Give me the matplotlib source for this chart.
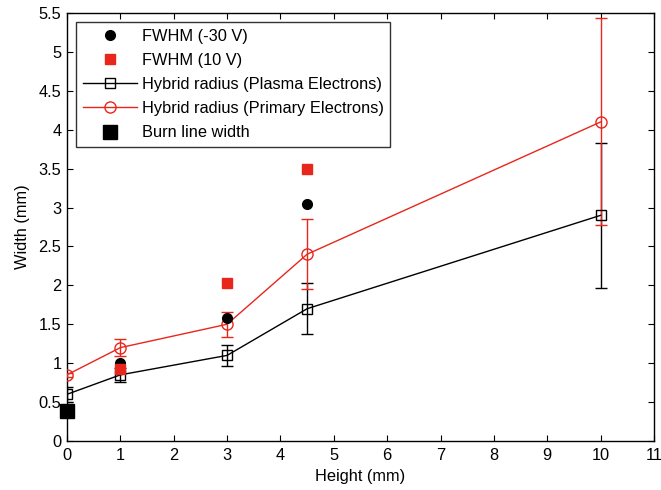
import matplotlib
matplotlib.use("Agg")
import matplotlib.pyplot as plt
from matplotlib.lines import Line2D

plt.rcParams['font.family'] = ['Liberation Sans', 'DejaVu Sans']

# Hybrid radius, plasma electrons
plasma_h = [0, 1, 3, 4.5, 10]
plasma_w = [0.6, 0.85, 1.1, 1.7, 2.9]
plasma_err = [0.1, 0.09, 0.14, 0.33, 0.93]

# Hybrid radius, primary electrons
primary_h = [0, 1, 3, 4.5, 10]
primary_w = [0.85, 1.2, 1.5, 2.4, 4.1]
primary_err = [0.03, 0.11, 0.16, 0.45, 1.33]

# Measured FWHM
fwhm_m30_h = [1, 3, 4.5]
fwhm_m30_w = [1.0, 1.58, 3.05]
fwhm_10_h = [1, 3, 4.5]
fwhm_10_w = [0.93, 2.03, 3.5]

# Burn line width
burn_h = [0]
burn_w = [0.38]

xticks = list(range(0, 12))
yticks = [0, 0.5, 1, 1.5, 2, 2.5, 3, 3.5, 4, 4.5, 5, 5.5]

fs = 11.8
red = '#e8261c'

fig = plt.figure(figsize=(6.61, 4.9), dpi=100)
ax = fig.add_axes([67 / 661, 49 / 490, 587 / 661, 428 / 490])

ax.errorbar(plasma_h, plasma_w, yerr=plasma_err, color='black', lw=1,
            marker='s', mfc='none', mec='black', ms=7.5, mew=1, capsize=4,
            elinewidth=1, zorder=3)
ax.errorbar(primary_h, primary_w, yerr=primary_err, color=red, lw=1,
            marker='o', mfc='none', mec=red, ms=8, mew=1, capsize=4,
            elinewidth=1, zorder=3)
ax.plot(fwhm_m30_h, fwhm_m30_w, 'o', color='black', ms=7, ls='none', zorder=4)
ax.plot(fwhm_10_h, fwhm_10_w, 's', color=red, ms=7.5, ls='none', zorder=4)
ax.plot(burn_h, burn_w, 's', color='black', ms=10, ls='none',
        clip_on=False, zorder=5)

ax.set_xlim(0, 11)
ax.set_ylim(0, 5.5)
ax.set_xticks(xticks)
ax.set_xticklabels([str(t) for t in xticks])
ax.set_yticks(yticks)
ax.set_yticklabels([('%g' % t) for t in yticks])
ax.tick_params(direction='in', top=True, right=True, labelsize=fs,
               length=4.5, width=0.8)
ax.tick_params(axis='x', pad=5)
ax.tick_params(axis='y', pad=4)
for s in ax.spines.values():
    s.set_linewidth(1)
ax.set_xlabel('Height (mm)', fontsize=fs, labelpad=4)
ax.set_ylabel('Width (mm)', fontsize=fs, labelpad=6)

handles = [
    Line2D([], [], ls='none', marker='o', color='black', ms=7),
    Line2D([], [], ls='none', marker='s', color=red, ms=7.5),
    Line2D([], [], color='black', lw=1, marker='s', mfc='none', mec='black', ms=7.5),
    Line2D([], [], color=red, lw=1, marker='o', mfc='none', mec=red, ms=8),
    Line2D([], [], ls='none', marker='s', color='black', ms=10),
]
labels = ['FWHM (-30 V)', 'FWHM (10 V)', 'Hybrid radius (Plasma Electrons)',
          'Hybrid radius (Primary Electrons)', 'Burn line width']
leg = ax.legend(handles, labels, loc='upper left',
                bbox_to_anchor=(9 / 587, 419 / 428), fontsize=fs, frameon=True,
                fancybox=False, edgecolor='black', borderpad=0.4,
                labelspacing=0.56, handlelength=3.3, handletextpad=0.3,
                borderaxespad=0)
leg.get_frame().set_linewidth(1)

fig.savefig('out.png', dpi=100)
